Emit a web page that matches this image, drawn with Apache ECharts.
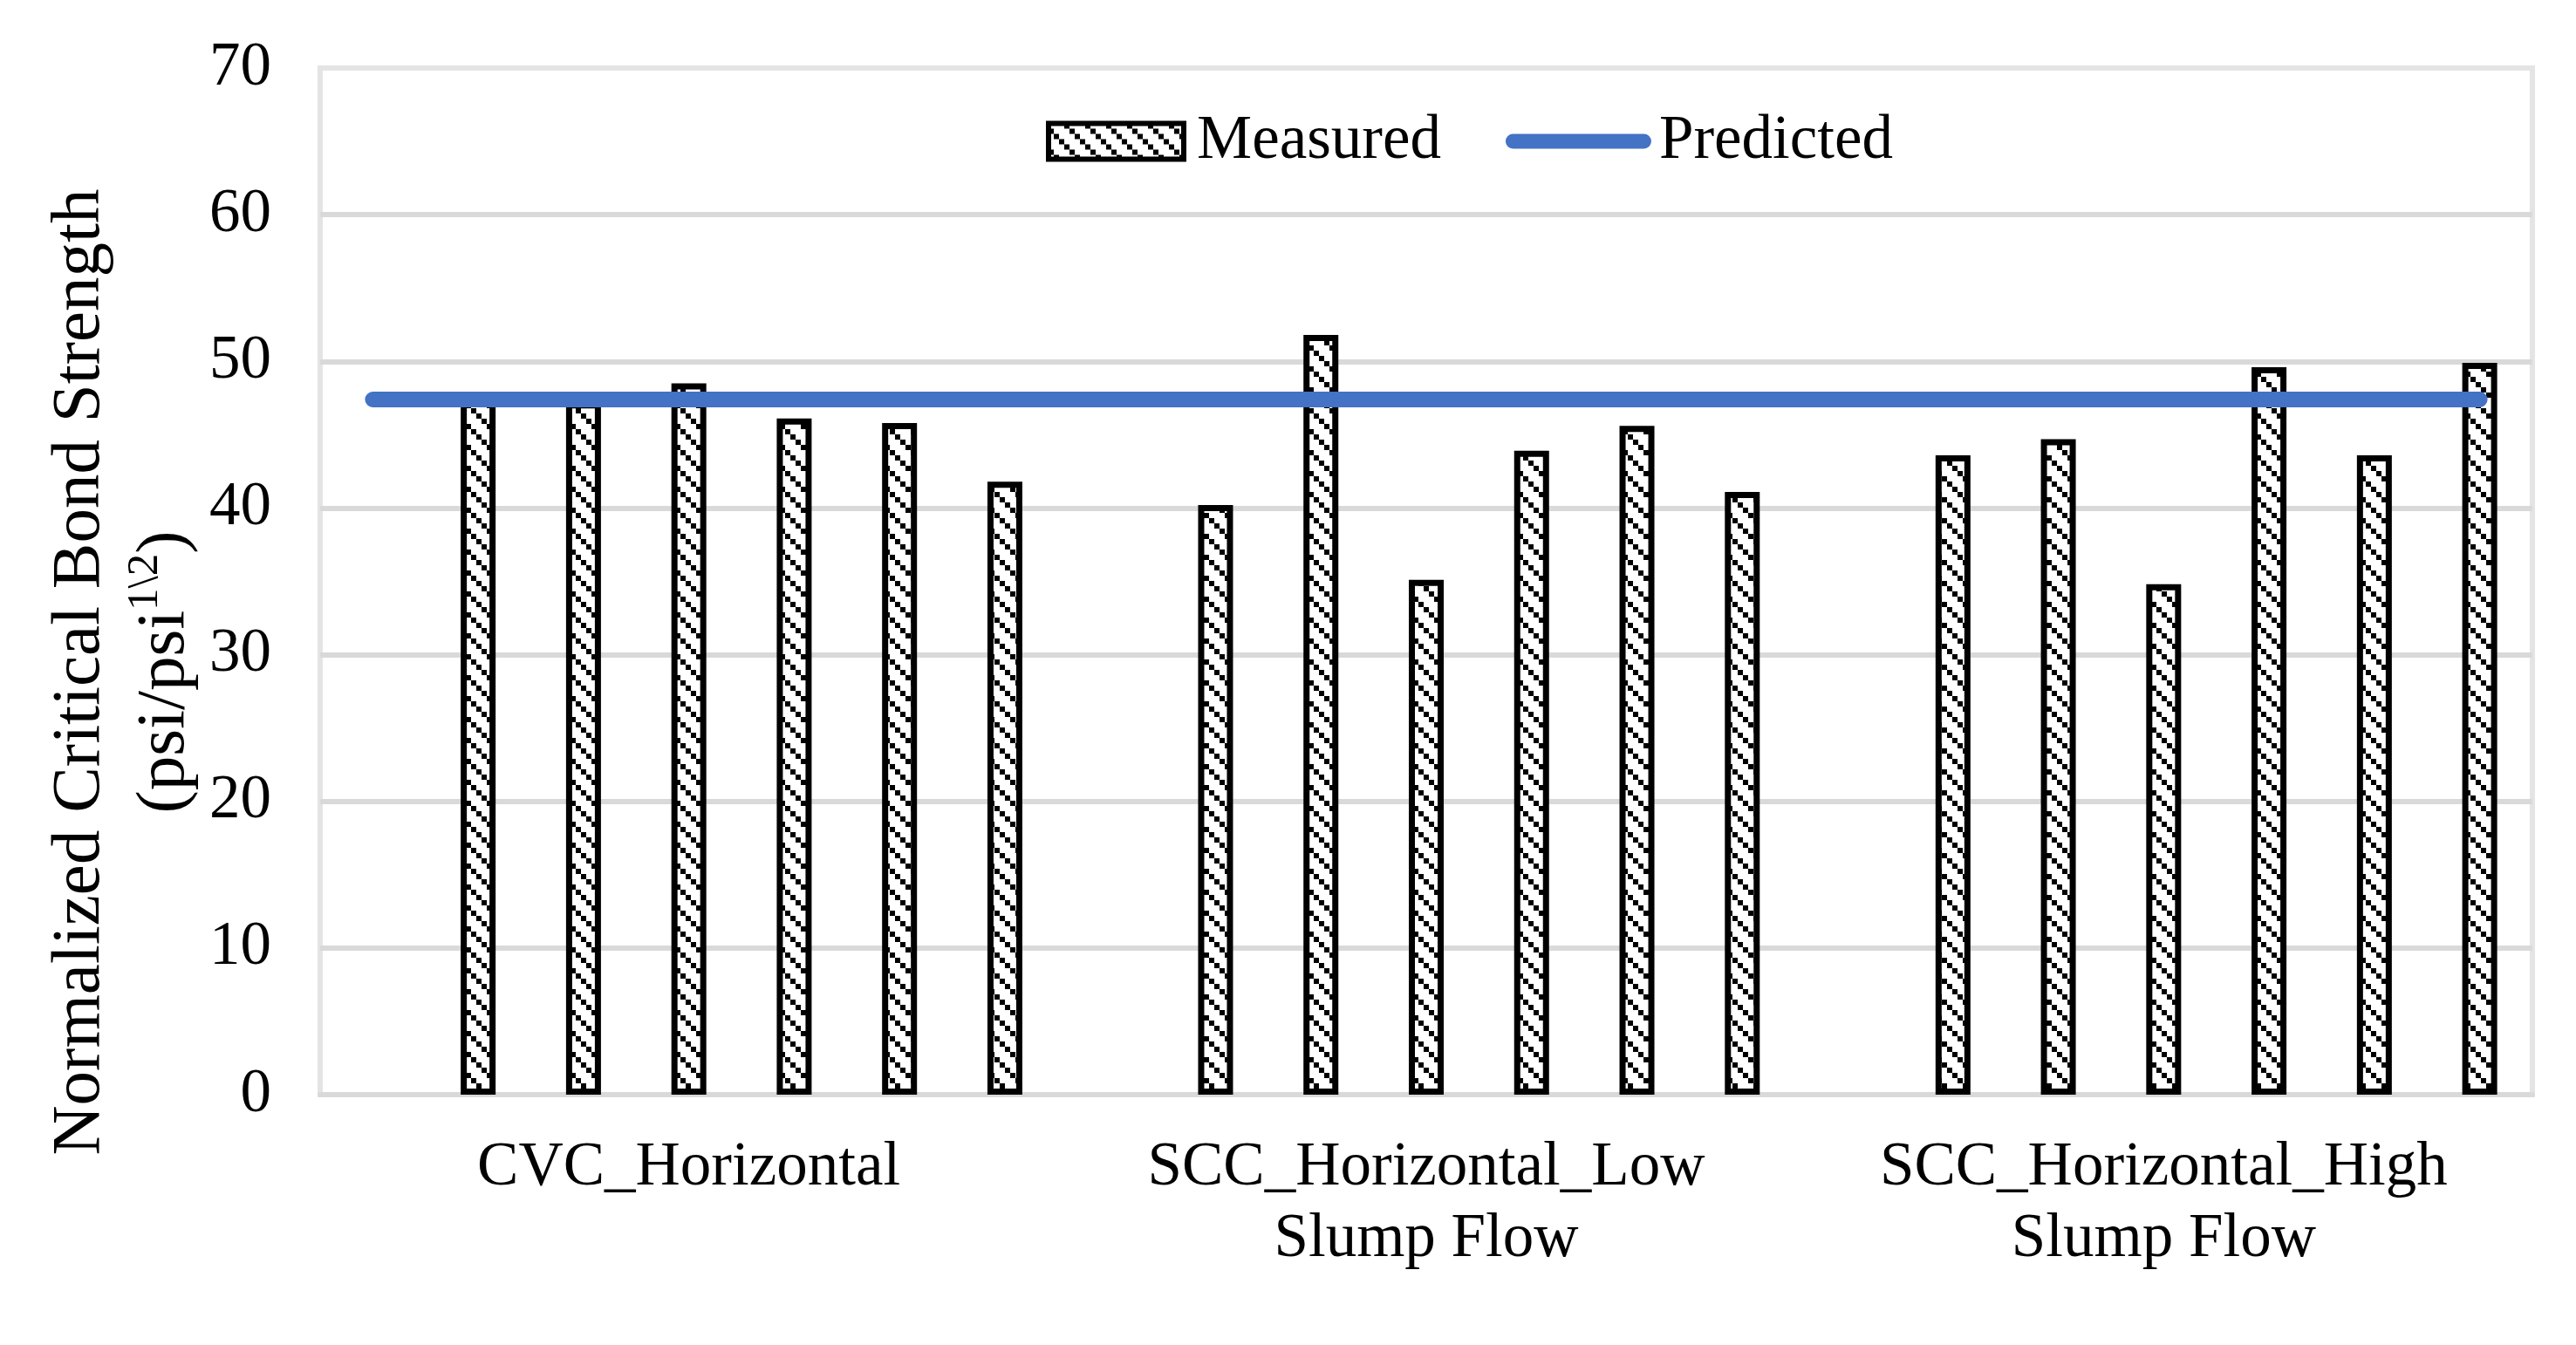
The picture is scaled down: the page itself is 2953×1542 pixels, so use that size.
<!DOCTYPE html>
<html>
<head>
<meta charset="utf-8">
<script src="https://cdn.jsdelivr.net/npm/echarts@6/dist/echarts.min.js"></script>
<style>
html,body{margin:0;padding:0;background:#fff;}
#chart{width:2953px;height:1542px;}
</style>
</head>
<body>
<div id="chart"></div>
<script>
// ---- data ----
const groupLabels = ['CVC_Horizontal', 'SCC_Horizontal_Low\nSlump Flow', 'SCC_Horizontal_High\nSlump Flow'];
const cvcMeasured = [47.3, 47.2, 48.5, 46.1, 45.8, 41.8];
const sccLowMeasured = [40.2, 51.8, 35.1, 43.9, 45.6, 41.1];
const sccHighMeasured = [43.6, 44.7, 34.8, 49.6, 43.6, 49.9];
const predicted = [47.4, 47.4, 47.4, 47.4, 47.4, 47.4, 47.4, 47.4, 47.4, 47.4, 47.4,
                   47.4, 47.4, 47.4, 47.4, 47.4, 47.4, 47.4, 47.4, 47.4, 47.4];
const yTicks = [0, 10, 20, 30, 40, 50, 60, 70];

// build slots: each group = 1 empty slot + 6 bars
const groups = [cvcMeasured, sccLowMeasured, sccHighMeasured];
const categories = [];
const slotLabels = [];
const measured = [];
groups.forEach((g, gi) => {
  categories.push('g' + gi + '-gap');
  slotLabels.push('');
  measured.push(null);
  g.forEach((v, i) => {
    categories.push('g' + gi + '-' + i);
    slotLabels.push(i === 2 ? groupLabels[gi] : '');
    measured.push(v);
  });
});

function hatchCanvas() {
  const c = document.createElement('canvas');
  c.width = 24; c.height = 24;
  const g = c.getContext('2d');
  g.fillStyle = '#ffffff';
  g.fillRect(0, 0, 24, 24);
  g.fillStyle = '#000000';
  for (let k = 0; k < 4; k++) g.fillRect(k * 6, k * 6, 6, 6);
  return c;
}
const hatch = { image: hatchCanvas(), repeat: 'repeat' };
const FONT = 'Liberation Serif';

const chart = echarts.init(document.getElementById('chart'), null, { renderer: 'canvas' });
chart.setOption({
  backgroundColor: '#ffffff',
  animation: false,
  textStyle: { fontFamily: FONT, color: '#000' },
  grid: {
    left: 367, right: 50, top: 78, bottom: 287,
    show: true, borderColor: '#e4e4e4', borderWidth: 6, containLabel: false
  },
  legend: {
    left: 1194, top: 117,
    itemWidth: 167, itemHeight: 41, itemGap: 74,
    textStyle: { fontFamily: FONT, fontSize: 71, lineHeight: 80, color: '#000', padding: [0, 0, 0, 4] },
    data: [
      { name: 'Measured', icon: 'path://M0,0H155V41H0Z',
        itemStyle: { color: hatch, borderColor: '#000', borderWidth: 6 } },
      { name: 'Predicted', icon: 'path://M8.5,0H158.5A8.5,8.5,0,0,1,158.5,17H8.5A8.5,8.5,0,0,1,8.5,0Z',
        itemStyle: { color: '#4472C4', borderWidth: 0 } }
    ]
  },
  xAxis: {
    type: 'category',
    data: categories,
    boundaryGap: true,
    axisLine: { show: true, lineStyle: { color: '#d9d9d9', width: 6 } },
    axisTick: { show: false },
    splitLine: { show: false },
    axisLabel: {
      interval: 0, margin: 43, fontFamily: FONT, fontSize: 71, lineHeight: 82, color: '#000',
      formatter: (v, idx) => slotLabels[idx]
    }
  },
  yAxis: {
    type: 'value',
    min: yTicks[0], max: yTicks[yTicks.length - 1], interval: 10,
    axisLine: { show: false },
    axisTick: { show: false },
    axisLabel: { margin: 56, fontFamily: FONT, fontSize: 71, color: '#000' },
    splitLine: { show: true, lineStyle: { width: 6,
      color: ['#d9d9d9', '#d9d9d9', '#d9d9d9', '#d9d9d9', '#d9d9d9', '#d9d9d9', '#d9d9d9', '#e4e4e4'] } },
    name: '{a|Normalized Critical Bond Strength}\n{a|(psi/psi}{s|1\\2}{a|)}',
    nameLocation: 'middle',
    nameRotate: 90,
    nameGap: 129,
    nameTextStyle: {
      padding: [0, 208, 0, 0],
      rich: {
        a: { fontFamily: FONT, fontSize: 79, lineHeight: 97, color: '#000' },
        s: { fontFamily: FONT, fontSize: 51, lineHeight: 60, verticalAlign: 'top', color: '#000' }
      }
    }
  },
  series: [
    {
      name: 'Measured',
      type: 'bar',
      data: measured,
      barWidth: 40,
      itemStyle: { color: hatch, borderColor: '#000', borderWidth: 7 },
      z: 2
    },
    {
      name: 'Predicted',
      type: 'line',
      data: predicted,
      symbol: 'none',
      showSymbol: false,
      lineStyle: { color: '#4472C4', width: 18, cap: 'round' },
      itemStyle: { color: '#4472C4' },
      z: 5
    }
  ]
});
</script>
</body>
</html>
